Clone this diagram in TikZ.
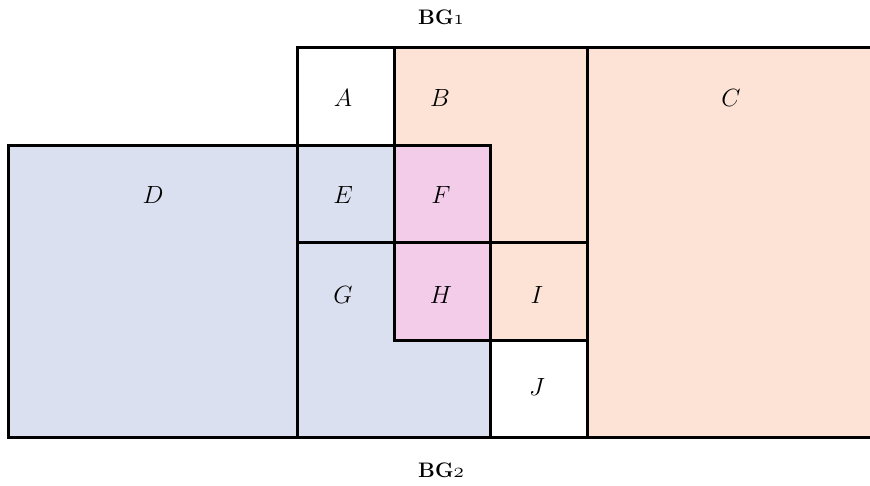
\documentclass[tikz,border=0pt]{standalone}
\usepackage{amsmath}
\definecolor{cblue}{HTML}{DAE0EF}
\definecolor{corange}{HTML}{FCE3D6}
\definecolor{cpink}{HTML}{F3CCEA}
\providecommand{\legacyoldstylenums}{\oldstylenums}
\newcommand{\labsize}{\fontsize{24}{28}\selectfont}
\newcommand{\titlesize}{\fontsize{21}{25}\selectfont\bfseries}
\begin{document}
\begin{tikzpicture}[x=1pt,y=-1pt,
  gridline/.style={line width=3pt,line cap=rect,black},
  lab/.style={inner sep=0pt},
  title/.style={inner sep=0pt}]
\useasboundingbox (0,0) rectangle (870,486);
% fills
\fill[cblue] (8,146) rectangle (297,437);
\fill[cblue] (297,146) rectangle (394,243);
\fill[cblue] (297,243) -- (394,243) -- (394,340) -- (490,340) -- (490,437) -- (297,437) -- cycle;
\fill[corange] (394,48) -- (587,48) -- (587,243) -- (490,243) -- (490,146) -- (394,146) -- cycle;
\fill[corange] (490,243) rectangle (587,340);
\fill[corange] (587,48) rectangle (870,437);
\fill[cpink] (394,146) rectangle (490,340);
% lines
\draw[gridline] (297,48) -- (870,48);
\draw[gridline] (8,146) -- (490,146);
\draw[gridline] (297,243) -- (587,243);
\draw[gridline] (394,340) -- (587,340);
\draw[gridline] (8,437) -- (870,437);
\draw[gridline] (8,146) -- (8,437);
\draw[gridline] (297,48) -- (297,437);
\draw[gridline] (394,48) -- (394,340);
\draw[gridline] (490,146) -- (490,437);
\draw[gridline] (587,48) -- (587,437);
% labels
\node[lab] (A) at (343,98) {\labsize$A$};
\node[lab] (B) at (440,98) {\labsize$B$};
\node[lab] (C) at (731,98) {\labsize$C$};
\node[lab] (D) at (153,195) {\labsize$D$};
\node[lab] (E) at (343,195) {\labsize$E$};
\node[lab] (F) at (441,195) {\labsize$F$};
\node[lab] (G) at (343,295) {\labsize$G$};
\node[lab] (H) at (441,295) {\labsize$H$};
\node[lab] (I) at (537,295) {\labsize$I$};
\node[lab] (J) at (537,387) {\labsize$J$};
\node[title] (BG1) at (441,17) {\titlesize BG\legacyoldstylenums{1}};
\node[title] (BG2) at (441,470) {\titlesize BG\legacyoldstylenums{2}};
\end{tikzpicture}
\end{document}
